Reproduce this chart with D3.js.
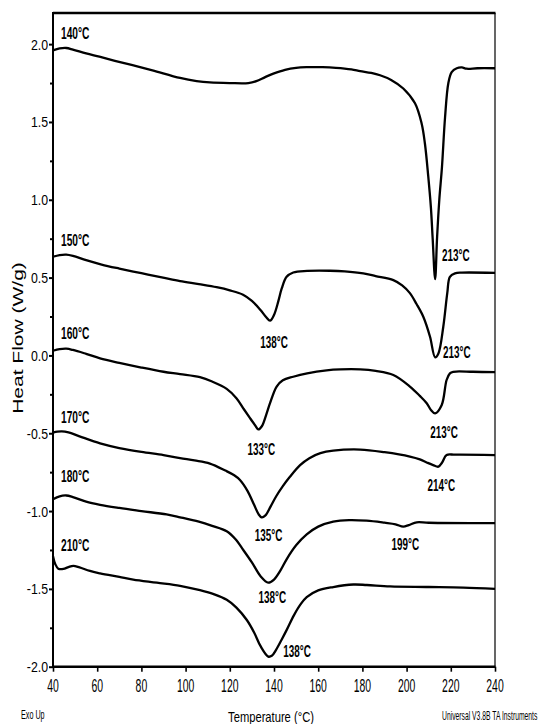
<!DOCTYPE html>
<html>
<head>
<meta charset="utf-8">
<script src="https://cdn.jsdelivr.net/npm/d3@7"></script>
<style>
  html, body { margin: 0; padding: 0; background: #fff; }
  svg { display: block; }
</style>
</head>
<body>
<svg id="chart" width="541" height="724"></svg>
<script>
// ---------------- DATA ----------------
const xTicks = [40, 60, 80, 100, 120, 140, 160, 180, 200, 220, 240];
const yTicks = [-2.0, -1.5, -1.0, -0.5, 0.0, 0.5, 1.0, 1.5, 2.0];
const yMinorTicks = [-1.75, -1.25, -0.75, -0.25, 0.25, 0.75, 1.25, 1.75];

const runNames = ["140°C", "150°C", "160°C", "170°C", "180°C", "210°C"];

// [temperature °C, heat flow W/g]
const curve140 = [[40,1.96],[43,1.972],[46,1.975],[49,1.965],[55,1.94],[61,1.919],[68,1.893],[76,1.865],[85,1.832],[97.5,1.783],[105,1.763],[111,1.754],[120,1.75],[128.4,1.75],[132,1.762],[136,1.788],[139.7,1.81],[145,1.835],[150,1.848],[155,1.852],[162,1.852],[168,1.848],[175,1.838],[179,1.827],[184,1.815],[188,1.80],[193,1.77],[198.5,1.715],[203.8,1.62],[206.8,1.49],[208.3,1.36],[209.8,1.15],[211,0.95],[211.8,0.75],[212.9,0.49],[213.8,0.76],[214.8,1.0],[216,1.21],[217.4,1.53],[218.9,1.75],[220.4,1.82],[222.7,1.845],[225,1.85],[227.2,1.842],[232,1.845],[240,1.845]];
const curve150 = [[40,0.634],[43,0.645],[46,0.648],[49,0.64],[55,0.612],[62,0.584],[70,0.558],[80,0.528],[89.8,0.50],[97.5,0.478],[106,0.458],[114,0.438],[120,0.418],[126,0.39],[130,0.35],[134,0.29],[136.5,0.245],[138.2,0.223],[140,0.26],[142,0.35],[143.5,0.43],[145.7,0.505],[148.7,0.533],[155,0.543],[165.3,0.544],[172,0.54],[180.4,0.527],[186,0.51],[194,0.484],[198,0.45],[201.5,0.40],[204.5,0.33],[207.6,0.247],[210.6,0.12],[212.9,-0.012],[214.4,0.013],[216.6,0.184],[218.4,0.40],[219.6,0.505],[221.9,0.527],[225,0.532],[240,0.53]];
const curve160 = [[40,0.03],[43,0.04],[46,0.043],[49,0.035],[55,0.01],[61.3,-0.019],[70,-0.048],[80,-0.078],[90,-0.105],[97.5,-0.12],[106.5,-0.14],[112,-0.168],[118.6,-0.215],[123,-0.275],[126.1,-0.34],[129,-0.40],[131.5,-0.45],[132.9,-0.475],[134.5,-0.455],[136.5,-0.38],[138.2,-0.307],[141.2,-0.20],[144,-0.16],[148.7,-0.137],[155,-0.115],[163.8,-0.096],[170,-0.09],[179,-0.09],[186,-0.10],[194,-0.126],[201.5,-0.20],[206,-0.26],[209.1,-0.307],[211,-0.35],[212.9,-0.372],[215.9,-0.318],[218.1,-0.158],[219.6,-0.115],[221.1,-0.105],[230,-0.105],[240,-0.108]];
const curve170 = [[40,-0.496],[42,-0.49],[44,-0.488],[47,-0.495],[52,-0.52],[61.3,-0.565],[70,-0.595],[80,-0.62],[90,-0.64],[97.5,-0.66],[104,-0.675],[111,-0.695],[118,-0.74],[122,-0.77],[124.6,-0.80],[128,-0.87],[131,-0.96],[133,-1.02],[134.4,-1.04],[136,-1.03],[138.5,-0.97],[141,-0.905],[144,-0.84],[147.2,-0.78],[151.8,-0.705],[156,-0.66],[161,-0.628],[166.8,-0.612],[179,-0.605],[190,-0.622],[201.5,-0.65],[206,-0.668],[209.1,-0.688],[212,-0.705],[214.4,-0.715],[216,-0.69],[218.1,-0.64],[222,-0.638],[240,-0.64]];
const curve180 = [[40,-0.924],[43,-0.905],[46,-0.90],[49,-0.91],[55,-0.94],[61.3,-0.96],[70,-0.98],[80,-1.0],[91.4,-1.022],[97.5,-1.04],[106,-1.068],[112,-1.095],[118.6,-1.13],[122.5,-1.18],[126.1,-1.25],[130,-1.33],[134,-1.42],[137.4,-1.46],[140,-1.44],[143,-1.38],[145.7,-1.31],[150,-1.22],[154.8,-1.15],[160,-1.10],[166.8,-1.068],[174,-1.058],[181.9,-1.062],[190,-1.075],[195,-1.085],[198.5,-1.10],[201,-1.09],[204.6,-1.072],[210,-1.075],[240,-1.078]];
const curve210 = [[40,-1.29],[41,-1.34],[42.4,-1.37],[44.7,-1.372],[47,-1.36],[49.2,-1.352],[52,-1.362],[56.7,-1.385],[61.3,-1.40],[70,-1.423],[76.3,-1.44],[87,-1.46],[97.5,-1.48],[106.5,-1.508],[113,-1.535],[118.6,-1.57],[123,-1.62],[127.7,-1.70],[131,-1.78],[134,-1.87],[137.4,-1.935],[139,-1.93],[141,-1.89],[143.5,-1.825],[145.7,-1.765],[149,-1.67],[152,-1.60],[154.8,-1.553],[160,-1.51],[166.8,-1.488],[175.9,-1.472],[182,-1.475],[192.5,-1.484],[210,-1.488],[225.7,-1.492],[240,-1.50]];

// peak annotations: [text, temperature, heat flow]
const peakLabels = [
  ["213°C", 212.9, 0.49],
  ["138°C", 138.2, 0.223],
  ["213°C", 212.9, -0.012],
  ["133°C", 132.9, -0.475],
  ["213°C", 212.9, -0.372],
  ["214°C", 214.4, -0.715],
  ["135°C", 134.4, -1.04],
  ["199°C", 198.5, -1.10],
  ["138°C", 137.4, -1.46],
  ["138°C", 137.4, -1.935]
];

const yTitle = "Heat Flow (W/g)";
const xTitle = "Temperature (°C)";
const footLeft = "Exo Up";
const footRight = "Universal V3.8B TA Instruments";

// ---------------- LAYOUT ----------------
const curves = [curve140, curve150, curve160, curve170, curve180, curve210];
const W = 541, H = 724;
const plot = { left: 53, right: 495, top: 13, bottom: 666.7 };
const FONT = "'Liberation Sans', Arial, Helvetica, sans-serif";

const svg = d3.select("#chart");
const x = d3.scaleLinear().domain([40, 240]).range([plot.left, plot.right]);
const y = d3.scaleLinear().domain([-2, 2.2]).range([plot.bottom, plot.top]);

function txt(s, px, py, o) {
  return svg.append("text")
    .attr("transform", `translate(${px},${py}) ${o.rot ? "rotate(" + o.rot + ")" : ""} scale(${o.sx || 1},${o.sy || 1})`)
    .attr("text-anchor", o.anchor || "start")
    .style("font-family", FONT)
    .style("font-size", o.size + "px")
    .style("font-weight", o.weight || "normal")
    .style("fill", "#000")
    .text(s);
}

// frame: top thick, right thin
svg.append("line").attr("x1", plot.left).attr("x2", plot.right + 0.5)
  .attr("y1", plot.top).attr("y2", plot.top).attr("stroke", "#000").attr("stroke-width", 2.5);
svg.append("line").attr("x1", plot.right).attr("x2", plot.right)
  .attr("y1", plot.top).attr("y2", plot.bottom).attr("stroke", "#000").attr("stroke-width", 1.2);

// y axis
const yAxis = svg.append("g").attr("transform", `translate(${plot.left},0)`)
  .call(d3.axisLeft(y).tickValues(yTicks).tickSize(4).tickSizeOuter(0).tickFormat(""));
const yMinor = svg.append("g").attr("transform", `translate(${plot.left},0)`)
  .call(d3.axisLeft(y).tickValues(yMinorTicks).tickSize(3).tickSizeOuter(0).tickFormat(""));
yMinor.select(".domain").remove();
[yAxis, yMinor].forEach(g => {
  g.selectAll("line").attr("stroke", "#000").attr("stroke-width", 2);
});
yAxis.select(".domain").attr("stroke", "#000").attr("stroke-width", 2)
  .attr("d", `M0,${plot.top - 1}V${plot.bottom}`);
yTicks.forEach(v => txt(v.toFixed(1), 48, y(v) + 5.5, { size: 14.5, sx: 0.85, anchor: "end" }));

// x axis
const xAxis = svg.append("g").attr("transform", `translate(0,${plot.bottom})`)
  .call(d3.axisBottom(x).tickValues(xTicks).tickSize(5).tickSizeOuter(0).tickFormat(""));
xAxis.select(".domain").attr("stroke", "#000").attr("stroke-width", 2.5)
  .attr("d", `M${plot.left - 1},0H${plot.right + 0.5}`);
xAxis.selectAll("line").attr("stroke", "#000").attr("stroke-width", 1.6);
xTicks.forEach(v => txt(String(v), x(v), plot.bottom + 25, { size: 18, sx: 0.58, anchor: "middle" }));

// curves
const line = d3.line().x(d => x(d[0])).y(d => y(d[1])).curve(d3.curveCatmullRom.alpha(0.5));
svg.append("g").selectAll("path").data(curves).join("path")
  .attr("d", line).attr("fill", "none").attr("stroke", "#000")
  .attr("stroke-width", 2.3).attr("stroke-linejoin", "round");

// run labels (left)
const runLabelDy = [-11, -10.7, -11.3, -9.7, -17.3, -4.7];
runNames.forEach((s, i) => {
  const c = curves[i][0];
  txt(s, 61, y(c[1]) + runLabelDy[i], { size: 17, sx: 0.6, weight: "bold" });
});

// peak labels
const peakOffsets = [
  [7, -18, "start"], [4, 27, "middle"], [8, 1, "start"], [3, 26, "middle"], [9, 25, "middle"],
  [3, 24, "middle"], [7, 24, "middle"], [2, 23, "middle"], [4, 20, "middle"], [15, 0, "start"]
];
peakLabels.forEach((p, i) => {
  const o = peakOffsets[i];
  txt(p[0], x(p[1]) + o[0], y(p[2]) + o[1], { size: 16.5, sx: 0.6, weight: "bold", anchor: o[2] });
});

// titles
txt(yTitle, 23, 338, { size: 21, rot: -90, sy: 0.66, anchor: "middle" });
txt(xTitle, 271, 722, { size: 14, sx: 0.8, anchor: "middle" });
txt(footLeft, 21, 719, { size: 12, sx: 0.6 });
txt(footRight, 442, 720, { size: 12, sx: 0.565 });
</script>
</body>
</html>
